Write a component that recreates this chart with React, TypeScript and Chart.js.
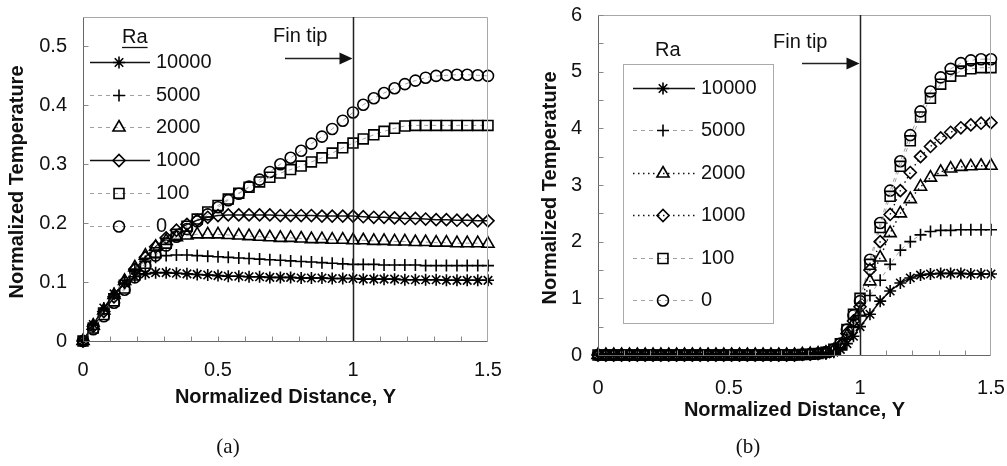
import React, { useEffect, useRef } from 'react';
import { Chart, registerables } from 'chart.js';
import { drawPoint } from 'chart.js/helpers';

Chart.register(...registerables);

// ---------- data ----------
const raLabels = ['10000', '5000', '2000', '1000', '100', '0'];

// Panel (a)
const xA = [0, 0.038, 0.077, 0.115, 0.154, 0.192, 0.231, 0.269, 0.308, 0.346, 0.385, 0.423, 0.462, 0.5,
  0.538, 0.577, 0.615, 0.654, 0.692, 0.731, 0.769, 0.808, 0.846, 0.885, 0.923, 0.962, 1.0, 1.038, 1.077,
  1.115, 1.154, 1.192, 1.231, 1.269, 1.308, 1.346, 1.385, 1.423, 1.462, 1.5];
const a10000 = [0, 0.028, 0.056, 0.08, 0.098, 0.109, 0.114, 0.116, 0.116, 0.115, 0.114, 0.113, 0.112, 0.111,
  0.11, 0.11, 0.109, 0.109, 0.108, 0.108, 0.108, 0.107, 0.107, 0.107, 0.106, 0.106, 0.106, 0.105, 0.105,
  0.105, 0.105, 0.104, 0.104, 0.104, 0.104, 0.103, 0.103, 0.103, 0.103, 0.103];
const a5000 = [0, 0.027, 0.054, 0.08, 0.103, 0.122, 0.135, 0.142, 0.145, 0.146, 0.146, 0.145, 0.144, 0.143,
  0.142, 0.141, 0.14, 0.139, 0.138, 0.137, 0.136, 0.135, 0.134, 0.133, 0.132, 0.131, 0.13, 0.13, 0.13,
  0.129, 0.129, 0.129, 0.129, 0.128, 0.128, 0.128, 0.128, 0.128, 0.128, 0.128];
const a2000 = [0, 0.026, 0.052, 0.078, 0.102, 0.125, 0.145, 0.16, 0.17, 0.176, 0.179, 0.181, 0.181, 0.181,
  0.18, 0.179, 0.178, 0.177, 0.176, 0.175, 0.175, 0.174, 0.173, 0.173, 0.172, 0.172, 0.171, 0.171, 0.17,
  0.17, 0.169, 0.169, 0.168, 0.168, 0.167, 0.167, 0.166, 0.166, 0.166, 0.165];
const a1000 = [0, 0.025, 0.05, 0.075, 0.1, 0.122, 0.142, 0.16, 0.175, 0.188, 0.198, 0.205, 0.21, 0.213,
  0.214, 0.214, 0.214, 0.214, 0.214, 0.213, 0.213, 0.213, 0.213, 0.212, 0.212, 0.212, 0.212, 0.211, 0.21,
  0.21, 0.209, 0.208, 0.208, 0.207, 0.206, 0.206, 0.205, 0.205, 0.204, 0.204];
const a100 = [0, 0.022, 0.045, 0.068, 0.09, 0.112, 0.132, 0.15, 0.166, 0.181, 0.195, 0.207, 0.219, 0.23,
  0.241, 0.251, 0.261, 0.27, 0.278, 0.285, 0.291, 0.297, 0.304, 0.311, 0.319, 0.328, 0.336, 0.343, 0.35,
  0.356, 0.361, 0.365, 0.366, 0.366, 0.366, 0.366, 0.366, 0.366, 0.366, 0.366];
const a0 = [0, 0.02, 0.042, 0.065, 0.087, 0.108, 0.127, 0.145, 0.162, 0.177, 0.19, 0.203, 0.215, 0.227,
  0.239, 0.25, 0.262, 0.274, 0.287, 0.3, 0.311, 0.323, 0.335, 0.347, 0.36, 0.374, 0.388, 0.401, 0.412,
  0.421, 0.429, 0.436, 0.442, 0.447, 0.45, 0.451, 0.452, 0.452, 0.451, 0.45];

// Panel (b)
const xB = [0, 0.03, 0.06, 0.09, 0.12, 0.15, 0.18, 0.21, 0.24, 0.27, 0.3, 0.33, 0.36, 0.39, 0.42, 0.45,
  0.48, 0.51, 0.54, 0.57, 0.6, 0.63, 0.66, 0.69, 0.72, 0.75, 0.78, 0.81, 0.84,
  0.87, 0.9, 0.925, 0.95, 0.975, 1.0, 1.038, 1.077, 1.115, 1.154, 1.192, 1.231, 1.269, 1.308, 1.346,
  1.385, 1.423, 1.462, 1.5];
const bBase = [0, 0, 0, 0, 0, 0, 0, 0, 0, 0, 0, 0, 0, 0, 0, 0, 0, 0, 0, 0, 0, 0, 0, 0, 0, 0, 0.01, 0.015, 0.025];
const b10000Tail = [0.02, 0.05, 0.1, 0.2, 0.33, 0.5, 0.72, 0.95, 1.13, 1.27, 1.36, 1.41, 1.43, 1.44, 1.44, 1.44, 1.43, 1.43, 1.43];
const b5000Tail = [0.03, 0.06, 0.12, 0.3, 0.5, 0.7, 1.05, 1.32, 1.6, 1.85, 2.0, 2.12, 2.18, 2.2, 2.2, 2.21, 2.21, 2.21, 2.21];
const b2000Tail = [0.04, 0.08, 0.15, 0.34, 0.55, 0.75, 1.3, 1.72, 2.15, 2.5, 2.75, 2.97, 3.13, 3.23, 3.29, 3.32, 3.33, 3.34, 3.34];
const b1000Tail = [0.04, 0.08, 0.17, 0.38, 0.6, 0.85, 1.5, 2.0, 2.48, 2.9, 3.22, 3.5, 3.68, 3.83, 3.93, 4.01, 4.06, 4.09, 4.1];
const b100Tail = [0.05, 0.1, 0.2, 0.45, 0.72, 1.0, 1.6, 2.25, 2.8, 3.33, 3.78, 4.2, 4.53, 4.78, 4.92, 5.01, 5.05, 5.07, 5.07];
const b0Tail = [0.05, 0.1, 0.2, 0.45, 0.7, 0.95, 1.68, 2.33, 2.9, 3.42, 3.88, 4.3, 4.65, 4.9, 5.05, 5.15, 5.2, 5.22, 5.22];

// ---------- styles ----------
const SANS = '"Liberation Sans", Arial, Helvetica, sans-serif';
const SERIF = '"Liberation Serif", "Times New Roman", serif';
const pointStyles = ['star', 'cross', 'triangle', 'rectRot', 'rect', 'circle'];
const pointRadii = [6, 6, 7, 6, 7, 5.5];
const MARK_W = 1.6;

type LineStyle = { color: string; dash: number[]; width: number };
const SOLID: LineStyle = { color: '#111', dash: [], width: 1.5 };
const DASHED: LineStyle = { color: '#a0a0a0', dash: [4, 4], width: 1 };
const DOTTED: LineStyle = { color: '#111', dash: [1.5, 3.5], width: 1.4 };

interface Panel {
  xs: number[];
  series: number[][];
  lines: LineStyle[];
  yMax: number;
  yStep: number;
  yMinor: number;
  canvasLeft: number;
  canvasWidth: number;
  padLeft: number;
  padRight: number;
  padTop: number;
  yAxisW: number;
  xAxisH: number;
  xTickPad: number;
  yTickPad: number;
  xTitleY: number;
  yTitleX: number;
  subLabel: string;
  subX: number;
  finTextX: number;
  finTextY: number;
  arrowX0: number;
  arrowY: number;
  legend: {
    box: null | { x: number; y: number; w: number; h: number };
    raX: number; raY: number; underline: boolean;
    y0: number; dy: number; x1: number; x2: number; xm: number; xt: number;
  };
}

const panelA: Panel = {
  xs: xA,
  series: [a10000, a5000, a2000, a1000, a100, a0],
  lines: [SOLID, DASHED, DASHED, SOLID, DASHED, DASHED],
  yMax: 0.55, yStep: 0.1, yMinor: 0.1,
  canvasLeft: 0, canvasWidth: 520,
  padLeft: 0, padRight: 32, padTop: 17,
  yAxisW: 83, xAxisH: 125,
  xTickPad: 17, yTickPad: 16,
  xTitleY: 397, yTitleX: 17,
  subLabel: '(a)', subX: 228,
  finTextX: 273, finTextY: 36, arrowX0: 285, arrowY: 58,
  legend: { box: null, raX: 122, raY: 37, underline: true, y0: 62, dy: 32.7, x1: 90, x2: 150, xm: 119, xt: 156 },
};

const panelB: Panel = {
  xs: xB,
  series: [
    bBase.concat(b10000Tail), bBase.concat(b5000Tail), bBase.concat(b2000Tail),
    bBase.concat(b1000Tail), bBase.concat(b100Tail), bBase.concat(b0Tail),
  ],
  lines: [SOLID, DASHED, DOTTED, DOTTED, DASHED, DASHED],
  yMax: 6, yStep: 1, yMinor: 0.5,
  canvasLeft: 500, canvasWidth: 507,
  padLeft: 0, padRight: 16, padTop: 15,
  yAxisW: 98, xAxisH: 111,
  xTickPad: 21, yTickPad: 16,
  xTitleY: 410, yTitleX: 550,
  subLabel: '(b)', subX: 748,
  finTextX: 773, finTextY: 42, arrowX0: 802, arrowY: 63,
  legend: { box: { x: 623, y: 64, w: 150, h: 259 }, raX: 655, raY: 50, underline: false, y0: 88, dy: 42.4, x1: 633, x2: 695, xm: 663, xt: 701 },
};

function fmtTick(v: number | string) {
  return String(Math.round(Number(v) * 1000) / 1000);
}

function overlay(p: Panel) {
  return {
    id: 'overlay',
    afterDraw(chart: any) {
      const ctx: CanvasRenderingContext2D = chart.ctx;
      const { left, right, top, bottom } = chart.chartArea;
      const xs = chart.scales.x;
      const ys = chart.scales.y;
      const ox = p.canvasLeft;
      ctx.save();

      // plot box
      const L = Math.round(left) + 0.5, R = Math.round(right) - 0.5;
      const T = Math.round(top) + 0.5, B = Math.round(bottom) + 0.5;
      ctx.lineWidth = 1;
      ctx.setLineDash([]);
      ctx.strokeStyle = '#a8a8a8';
      ctx.beginPath();
      ctx.moveTo(L, T); ctx.lineTo(R, T); ctx.lineTo(R, B);
      ctx.stroke();
      ctx.strokeStyle = '#666';
      ctx.beginPath();
      ctx.moveTo(L, T); ctx.lineTo(L, B); ctx.lineTo(R, B);
      ctx.stroke();

      // inner ticks
      ctx.strokeStyle = '#888';
      ctx.beginPath();
      for (let i = 1; i < 15; i++) {
        const px = Math.round(xs.getPixelForValue(i / 10)) + 0.5;
        ctx.moveTo(px, B); ctx.lineTo(px, B - 5);
      }
      const nY = Math.round(p.yMax / p.yMinor);
      for (let i = 1; i <= nY; i++) {
        const py = Math.round(ys.getPixelForValue(i * p.yMinor)) + 0.5;
        ctx.moveTo(L, py); ctx.lineTo(L + 5, py);
      }
      ctx.stroke();

      // fin tip line
      const X1 = Math.round(xs.getPixelForValue(1)) + 0.5;
      ctx.strokeStyle = '#222';
      ctx.lineWidth = 1.5;
      ctx.beginPath();
      ctx.moveTo(X1, top); ctx.lineTo(X1, bottom);
      ctx.stroke();

      // arrow
      const ay = p.arrowY + 0.5;
      ctx.lineWidth = 1.6;
      ctx.beginPath();
      ctx.moveTo(p.arrowX0 - ox, ay); ctx.lineTo(X1 - 12, ay);
      ctx.stroke();
      ctx.fillStyle = '#111';
      ctx.beginPath();
      ctx.moveTo(X1 - 1, ay); ctx.lineTo(X1 - 14, ay - 6); ctx.lineTo(X1 - 14, ay + 6);
      ctx.closePath();
      ctx.fill();

      ctx.fillStyle = '#111';
      ctx.font = `20px ${SANS}`;
      ctx.textAlign = 'left';
      ctx.textBaseline = 'middle';
      ctx.fillText('Fin tip', p.finTextX - ox, p.finTextY);

      // axis titles
      ctx.font = `bold 20px ${SANS}`;
      ctx.textAlign = 'center';
      ctx.fillText('Normalized Distance, Y', (left + right) / 2, p.xTitleY);
      ctx.save();
      ctx.translate(p.yTitleX - ox, (top + bottom) / 2 + 3);
      ctx.rotate(-Math.PI / 2);
      ctx.fillText('Normalized Temperature', 0, 0);
      ctx.restore();

      // sub label
      ctx.font = `21px ${SERIF}`;
      ctx.fillText(p.subLabel, p.subX - ox, 447);

      // legend
      const lg = p.legend;
      if (lg.box) {
        ctx.strokeStyle = '#aaa';
        ctx.lineWidth = 1;
        ctx.strokeRect(lg.box.x - ox + 0.5, lg.box.y + 0.5, lg.box.w, lg.box.h);
      }
      ctx.font = `20px ${SANS}`;
      ctx.textAlign = 'left';
      ctx.fillStyle = '#111';
      ctx.fillText('Ra', lg.raX - ox, lg.raY);
      if (lg.underline) {
        const w = ctx.measureText('Ra').width;
        ctx.strokeStyle = '#111';
        ctx.lineWidth = 1.3;
        ctx.beginPath();
        ctx.moveTo(lg.raX - ox, lg.raY + 10.5); ctx.lineTo(lg.raX - ox + w, lg.raY + 10.5);
        ctx.stroke();
      }
      for (let i = 0; i < raLabels.length; i++) {
        const y = Math.round(lg.y0 + i * lg.dy) + 0.5;
        const ls = p.lines[i];
        ctx.strokeStyle = ls.color;
        ctx.lineWidth = ls.width;
        ctx.setLineDash(ls.dash);
        ctx.beginPath();
        ctx.moveTo(lg.x1 - ox, y); ctx.lineTo(lg.x2 - ox, y);
        ctx.stroke();
        ctx.setLineDash([]);
        ctx.strokeStyle = '#000';
        ctx.fillStyle = 'rgba(0,0,0,0)';
        ctx.lineWidth = MARK_W;
        drawPoint(ctx, { pointStyle: pointStyles[i], radius: pointRadii[i], rotation: 0, borderWidth: MARK_W } as any, lg.xm - ox, y);
        ctx.fillStyle = '#111';
        ctx.fillText(raLabels[i], lg.xt - ox, y);
      }
      ctx.restore();
    },
  };
}

function makeChart(canvas: HTMLCanvasElement, p: Panel) {
  const datasets = p.series.map((ys, i) => ({
    label: raLabels[i],
    data: ys.map((y, j) => ({ x: p.xs[j], y })),
    showLine: true,
    borderColor: p.lines[i].color,
    borderWidth: p.lines[i].width,
    borderDash: p.lines[i].dash,
    pointStyle: pointStyles[i],
    pointRadius: pointRadii[i],
    pointBorderColor: '#000',
    pointBackgroundColor: 'rgba(0,0,0,0)',
    pointBorderWidth: MARK_W,
    fill: false,
    tension: 0,
    clip: false as any,
  }));
  const tickFont = { family: SANS, size: 20 };
  return new Chart(canvas, {
    type: 'scatter',
    data: { datasets } as any,
    options: {
      animation: false,
      responsive: false,
      devicePixelRatio: 1,
      events: [],
      layout: { padding: { left: p.padLeft, right: p.padRight, top: p.padTop, bottom: 0 } },
      plugins: { legend: { display: false }, tooltip: { enabled: false } },
      scales: {
        x: {
          type: 'linear', min: 0, max: 1.5,
          ticks: { stepSize: 0.5, font: tickFont, color: '#111', padding: p.xTickPad, maxRotation: 0, callback: fmtTick },
          grid: { display: false, drawTicks: false },
          border: { display: false },
          afterFit: (s: any) => { s.height = p.xAxisH; s.paddingLeft = 0; s.paddingRight = 0; },
        },
        y: {
          type: 'linear', min: 0, max: p.yMax,
          ticks: { stepSize: p.yStep, font: tickFont, color: '#111', padding: p.yTickPad, includeBounds: false, callback: fmtTick },
          grid: { display: false, drawTicks: false },
          border: { display: false },
          afterFit: (s: any) => { s.width = p.yAxisW; s.paddingTop = 0; s.paddingBottom = 0; },
        },
      },
    } as any,
    plugins: [overlay(p)],
  });
}

export default function App() {
  const refA = useRef<HTMLCanvasElement>(null);
  const refB = useRef<HTMLCanvasElement>(null);
  useEffect(() => {
    const ca = makeChart(refA.current!, panelA);
    const cb = makeChart(refB.current!, panelB);
    return () => { ca.destroy(); cb.destroy(); };
  }, []);
  return (
    <div style={{ position: 'absolute', left: 0, top: 0, width: 1007, height: 466, background: '#fff', overflow: 'hidden' }}>
      <canvas ref={refA} width={panelA.canvasWidth} height={466} style={{ position: 'absolute', left: panelA.canvasLeft, top: 0 }} />
      <canvas ref={refB} width={panelB.canvasWidth} height={466} style={{ position: 'absolute', left: panelB.canvasLeft, top: 0 }} />
    </div>
  );
}
